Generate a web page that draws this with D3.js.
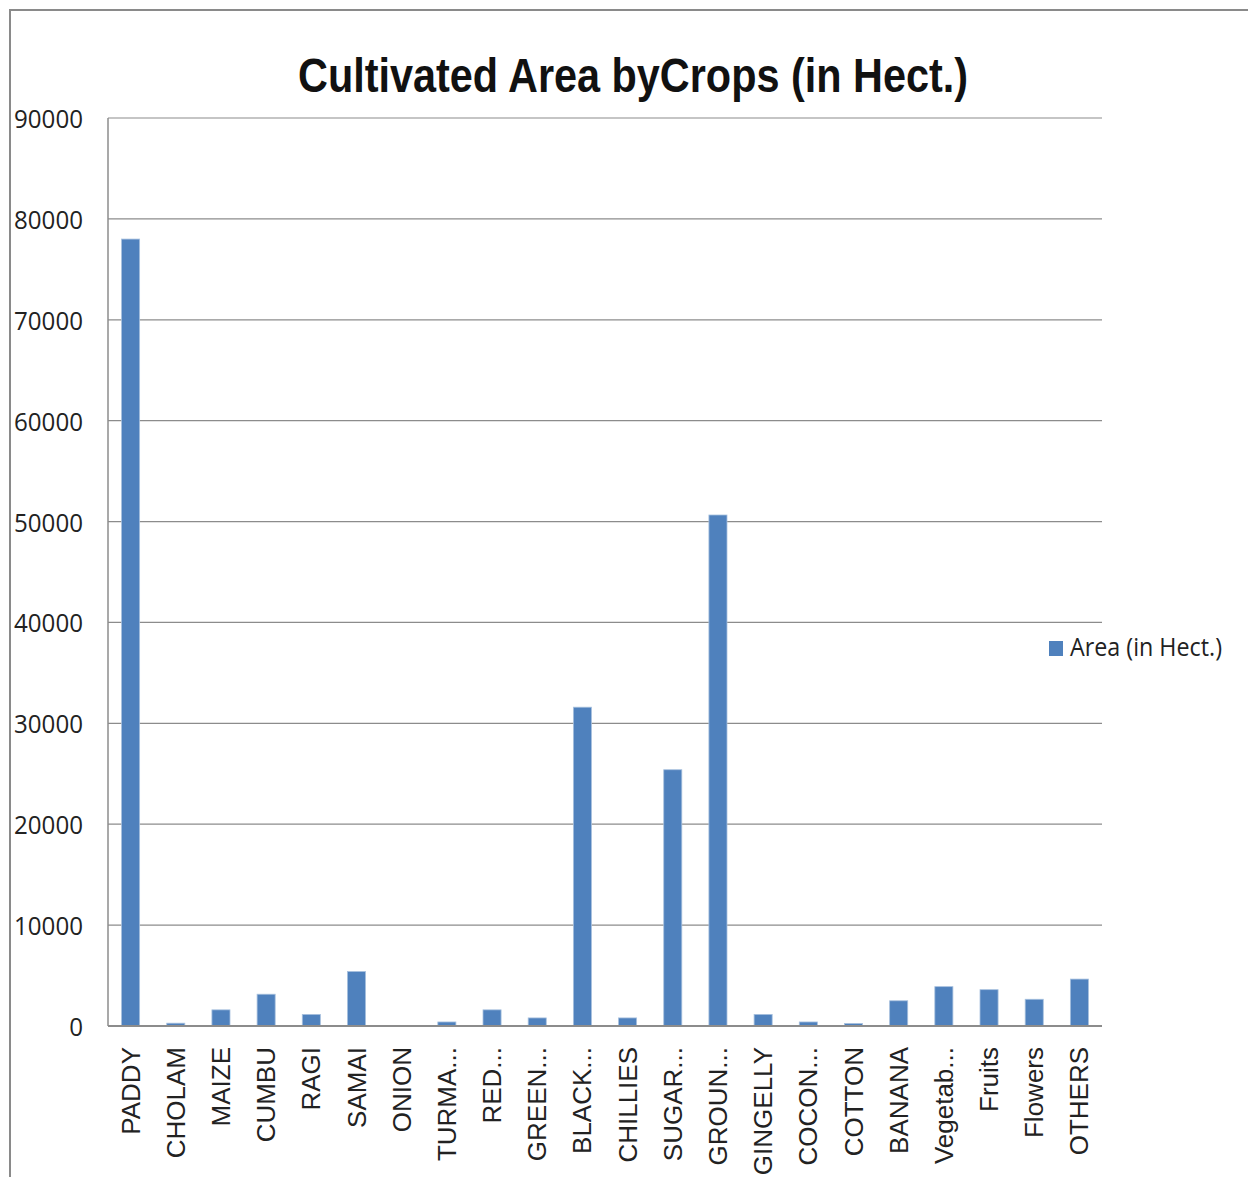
<!DOCTYPE html>
<html><head><meta charset="utf-8">
<script src="https://cdn.jsdelivr.net/npm/d3@7"></script>
<style>body{margin:0;background:#fff;}svg{display:block;}</style>
</head><body>
<script>
const categories = ["PADDY","CHOLAM","MAIZE","CUMBU","RAGI","SAMAI","ONION","TURMA...","RED...","GREEN...","BLACK...","CHILLIES","SUGAR...","GROUN...","GINGELLY","COCON...","COTTON","BANANA","Vegetab...","Fruits","Flowers","OTHERS"];
const areaValues = [78000,280,1600,3150,1150,5400,0,400,1600,800,31600,800,25400,50650,1150,400,250,2500,3900,3600,2650,4650];
const yTicks = [0,10000,20000,30000,40000,50000,60000,70000,80000,90000];
const titleText = "Cultivated Area byCrops (in Hect.)";
const legendLabel = "Area (in Hect.)";

const W = 1248, H = 1177;
const svg = d3.select("body").append("svg").attr("width", W).attr("height", H);
svg.append("rect").attr("width", W).attr("height", H).attr("fill", "#fff");

// outer frame (top & left visible)
svg.append("path").attr("d", `M10,${H} L10,10 L${W},10`).attr("fill","none").attr("stroke","#8a8a8a").attr("stroke-width",2);

const pLeft = 108, pRight = 1102, pTop = 118, pBottom = 1026;
const x = d3.scaleBand().domain(categories).range([pLeft, pRight]).paddingInner(0.6).paddingOuter(0.3);
const y = d3.scaleLinear().domain([0, 90000]).range([pBottom, pTop]);

// gridlines
svg.append("g").selectAll("line").data(yTicks.filter(d => d > 0)).join("line")
  .attr("x1", pLeft).attr("x2", pRight).attr("y1", d => y(d)).attr("y2", d => y(d))
  .attr("stroke", "#8c8c8c").attr("stroke-width", 1.2);

// y axis line
svg.append("line").attr("x1", pLeft).attr("x2", pLeft).attr("y1", pTop).attr("y2", pBottom).attr("stroke","#8c8c8c").attr("stroke-width",1.5);

// y tick labels
svg.append("g").selectAll("text").data(yTicks).join("text")
  .attr("x", 83).attr("y", d => y(d) + 10)
  .attr("text-anchor", "end")
  .attr("font-family", "'Open Sans', 'DejaVu Sans', sans-serif")
  .attr("font-size", 26).attr("fill", "#222")
  .attr("textLength", d => String(d).length * 13.8).attr("lengthAdjust", "spacingAndGlyphs")
  .text(d => d);

// bars
svg.append("g").selectAll("rect").data(categories).join("rect")
  .attr("x", d => x(d)).attr("width", x.bandwidth())
  .attr("y", (d, i) => y(areaValues[i]))
  .attr("height", (d, i) => pBottom - y(areaValues[i]))
  .attr("fill", "#4f81bd").attr("stroke", "#a7c0de").attr("stroke-width", 0.8);

// x axis line
svg.append("line").attr("x1", pLeft).attr("x2", pRight).attr("y1", pBottom).attr("y2", pBottom).attr("stroke","#8c8c8c").attr("stroke-width",2);

// x labels
svg.append("g").selectAll("text").data(categories).join("text")
  .attr("transform", d => `translate(${x(d) + x.bandwidth()/2 + 9},1047) rotate(-90)`)
  .attr("text-anchor", "end")
  .attr("font-family", "'Liberation Sans', Arial, sans-serif")
  .attr("font-size", 26).attr("fill", "#222")
  .text(d => d);

// title
svg.append("text").attr("x", 633).attr("y", 92).attr("text-anchor","middle")
  .attr("font-family", "'Liberation Sans Narrow', 'Liberation Sans', Arial, sans-serif")
  .attr("font-weight", "bold").attr("font-size", 48).attr("fill", "#111")
  .attr("textLength", 670).attr("lengthAdjust", "spacingAndGlyphs")
  .text(titleText);

// legend
svg.append("rect").attr("x", 1049).attr("y", 641).attr("width", 14).attr("height", 15).attr("fill", "#4f81bd");
svg.append("text").attr("x", 1070).attr("y", 656)
  .attr("font-family", "'Open Sans', 'DejaVu Sans', sans-serif")
  .attr("font-size", 26).attr("fill", "#222")
  .attr("textLength", 152).attr("lengthAdjust", "spacingAndGlyphs")
  .text(legendLabel);
</script>
</body></html>
